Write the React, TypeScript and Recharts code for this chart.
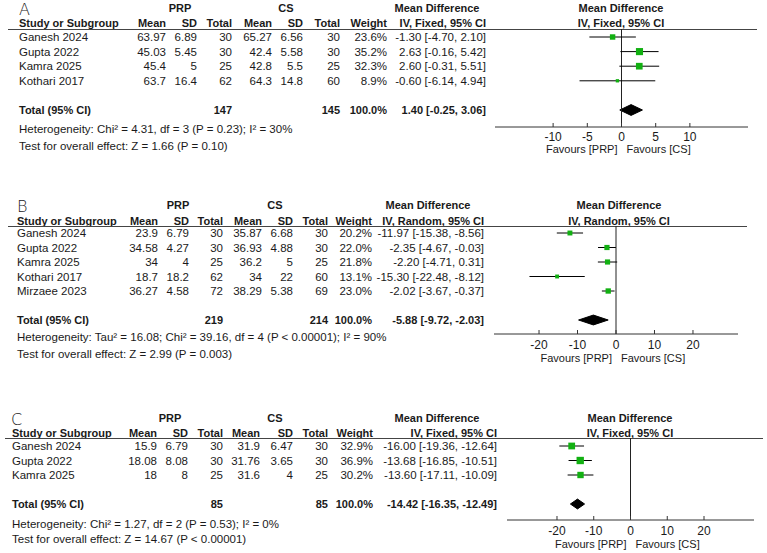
import React from 'react';
import { ComposedChart, Scatter, Area, XAxis, YAxis, ErrorBar, ReferenceLine } from 'recharts';

const FONT = '"Liberation Sans", Arial, sans-serif';
const INK = '#1a1a1a';
const GREEN = '#12b012';

// ---- panel A: fixed effect, 4 studies
const studiesA = ['Ganesh 2024', 'Gupta 2022', 'Kamra 2025', 'Kothari 2017'];
const prpMeanA = [63.97, 45.03, 45.4, 63.7];
const prpSdA = [6.89, 5.45, 5, 16.4];
const prpNA = [30, 30, 25, 62];
const csMeanA = [65.27, 42.4, 42.8, 64.3];
const csSdA = [6.56, 5.58, 5.5, 14.8];
const csNA = [30, 30, 25, 60];
const weightA = [23.6, 35.2, 32.3, 8.9];
const mdA = [-1.3, 2.63, 2.6, -0.6];
const loA = [-4.7, -0.16, -0.31, -6.14];
const hiA = [2.1, 5.42, 5.51, 4.94];
const totalA = [1.4, -0.25, 3.06];
const totalNA = [147, 145];
const notesA = ['Heterogeneity: Chi\u00b2 = 4.31, df = 3 (P = 0.23); I\u00b2 = 30%', 'Test for overall effect: Z = 1.66 (P = 0.10)'];
const ticksA = [-10, -5, 0, 5, 10];

// ---- panel B: random effects, 5 studies
const studiesB = ['Ganesh 2024', 'Gupta 2022', 'Kamra 2025', 'Kothari 2017', 'Mirzaee 2023'];
const prpMeanB = [23.9, 34.58, 34, 18.7, 36.27];
const prpSdB = [6.79, 4.27, 4, 18.2, 4.58];
const prpNB = [30, 30, 25, 62, 72];
const csMeanB = [35.87, 36.93, 36.2, 34, 38.29];
const csSdB = [6.68, 4.88, 5, 22, 5.38];
const csNB = [30, 30, 25, 60, 69];
const weightB = [20.2, 22.0, 21.8, 13.1, 23.0];
const mdB = [-11.97, -2.35, -2.2, -15.3, -2.02];
const loB = [-15.38, -4.67, -4.71, -22.48, -3.67];
const hiB = [-8.56, -0.03, 0.31, -8.12, -0.37];
const totalB = [-5.88, -9.72, -2.03];
const totalNB = [219, 214];
const notesB = ['Heterogeneity: Tau\u00b2 = 16.08; Chi\u00b2 = 39.16, df = 4 (P < 0.00001); I\u00b2 = 90%', 'Test for overall effect: Z = 2.99 (P = 0.003)'];
const ticksB = [-20, -10, 0, 10, 20];

// ---- panel C: fixed effect, 3 studies
const studiesC = ['Ganesh 2024', 'Gupta 2022', 'Kamra 2025'];
const prpMeanC = [15.9, 18.08, 18];
const prpSdC = [6.79, 8.08, 8];
const prpNC = [30, 30, 25];
const csMeanC = [31.9, 31.76, 31.6];
const csSdC = [6.47, 3.65, 4];
const csNC = [30, 30, 25];
const weightC = [32.9, 36.9, 30.2];
const mdC = [-16.0, -13.68, -13.6];
const loC = [-19.36, -16.85, -17.11];
const hiC = [-12.64, -10.51, -10.09];
const totalC = [-14.42, -16.35, -12.49];
const totalNC = [85, 85];
const notesC = ['Heterogeneity: Chi\u00b2 = 1.27, df = 2 (P = 0.53); I\u00b2 = 0%', 'Test for overall effect: Z = 14.67 (P < 0.00001)'];
const ticksC = [-20, -10, 0, 10, 20];

const panels = [
  {
    letter: 'A', model: 'IV, Fixed, 95% CI', studies: studiesA, prpMean: prpMeanA, prpSd: prpSdA, prpN: prpNA,
    csMean: csMeanA, csSd: csSdA, csN: csNA, weight: weightA, md: mdA, lo: loA, hi: hiA,
    total: totalA, totalN: totalNA, notes: notesA, ticks: ticksA,
    L: {
      letterX: 19, h1: 8, h2: 23, rule: 29, ruleL: 8, ruleR: 757, row0: 37, rowH: 14.6, totalIdx: 5,
      het: 129, test: 146, axisY: 127, plotL: 495, plotR: 748, domain: [-18.5, 18.5],
      studyX: 19, cols: [166, 197, 232, 272, 303, 340, 387, 486], prpC: 180, csC: 286, mdC: 437, plotMdC: 621,
      fav: 149, tm: 9, dh: 0.37,
    },
  },
  {
    letter: 'B', model: 'IV, Random, 95% CI', studies: studiesB, prpMean: prpMeanB, prpSd: prpSdB, prpN: prpNB,
    csMean: csMeanB, csSd: csSdB, csN: csNB, weight: weightB, md: mdB, lo: loB, hi: hiB,
    total: totalB, totalN: totalNB, notes: notesB, ticks: ticksB,
    L: {
      letterX: 17, h1: 205, h2: 221, rule: 226, ruleL: 8, ruleR: 747, row0: 233, rowH: 14.5, totalIdx: 6,
      het: 337, test: 354, axisY: 334, plotL: 494, plotR: 738, domain: [-31.7, 31.7],
      studyX: 17, cols: [158, 189, 223, 262, 293, 328, 372, 484], prpC: 178, csC: 275, mdC: 428, plotMdC: 619,
      fav: 358, tm: 10, dh: 0.34,
    },
  },
  {
    letter: 'C', model: 'IV, Fixed, 95% CI', studies: studiesC, prpMean: prpMeanC, prpSd: prpSdC, prpN: prpNC,
    csMean: csMeanC, csSd: csSdC, csN: csNC, weight: weightC, md: mdC, lo: loC, hi: hiC,
    total: totalC, totalN: totalNC, notes: notesC, ticks: ticksC,
    L: {
      letterX: 11, h1: 418, h2: 433, rule: 438, ruleL: 5, ruleR: 763, row0: 446, rowH: 14.5, totalIdx: 4,
      het: 524, test: 539, axisY: 520, plotL: 507, plotR: 754, domain: [-33.6, 33.6],
      studyX: 12, cols: [157, 188, 223, 260, 293, 328, 373, 497], prpC: 170, csC: 275, mdC: 437, plotMdC: 630,
      fav: 544, tm: 10, dh: 0.34,
    },
  },
];

const ci = (m: number, l: number, h: number) => `${m.toFixed(2)} [${l.toFixed(2)}, ${h.toFixed(2)}]`;

const T = ({ x, y, align = 'left', bold = false, size = 11.5, lh = 16, children }: any) => {
  const w = 400;
  const left = align === 'left' ? x : align === 'right' ? x - w : x - w / 2;
  return (
    <div
      style={{
        position: 'absolute', left, top: y - lh / 2, width: w, height: lh, lineHeight: `${lh}px`,
        textAlign: align, fontSize: size, fontWeight: bold ? 700 : 400, whiteSpace: 'nowrap', color: INK,
      }}
    >
      {children}
    </div>
  );
};

const Square = (props: any) => {
  const { cx, cy, payload } = props;
  if (cx == null || cy == null) return null;
  const s = 2 + payload.w * 0.145;
  return <rect x={cx - s / 2} y={cy - s / 2} width={s} height={s} fill={GREEN} />;
};

function Panel({ p }: { p: any }) {
  const L = p.L;
  const rowY = (i: number) => L.row0 + i * L.rowH;
  const yMin = (L.rule - L.row0) / L.rowH;
  const yMax = (L.axisY - L.row0) / L.rowH;
  const points = p.md.map((m: number, i: number) => ({ x: m, y: i, w: p.weight[i], err: [m - p.lo[i], p.hi[i] - m] }));
  const [tm, tl, th] = p.total;
  const ti = L.totalIdx;
  const diamond = [
    { x: tl, band: [ti, ti] },
    { x: tm, band: [ti - L.dh, ti + L.dh] },
    { x: th, band: [ti, ti] },
  ];
  const zeroX = L.plotL + ((0 - L.domain[0]) / (L.domain[1] - L.domain[0])) * (L.plotR - L.plotL);
  const c = L.cols;
  const hb = { bold: true, size: 11, lh: 10 };

  return (
    <>
      <div style={{ position: 'absolute', left: L.letterX, top: L.h1 - 6, fontSize: 16, lineHeight: '16px', height: 16, color: INK, fontFamily: '"DejaVu Sans", sans-serif', fontWeight: 200 }}>
        {p.letter}
      </div>
      <T x={L.prpC} y={L.h1} align="center" {...hb}>PRP</T>
      <T x={L.csC} y={L.h1} align="center" {...hb}>CS</T>
      <T x={L.mdC} y={L.h1} align="center" {...hb}>Mean Difference</T>
      <T x={L.plotMdC} y={L.h1} align="center" {...hb}>Mean Difference</T>

      <T x={L.studyX} y={L.h2} {...hb}>Study or Subgroup</T>
      {['Mean', 'SD', 'Total', 'Mean', 'SD', 'Total', 'Weight', p.model].map((h, k) => (
        <T key={k} x={c[k]} y={L.h2} align="right" {...hb}>{h}</T>
      ))}
      <T x={L.plotMdC} y={L.h2} align="center" {...hb}>{p.model}</T>

      <div style={{ position: 'absolute', left: L.ruleL, top: L.rule, width: L.ruleR - L.ruleL, height: 1, background: '#444' }} />

      {p.studies.map((s: string, i: number) => {
        const y = rowY(i);
        const vals = [p.prpMean[i], p.prpSd[i], p.prpN[i], p.csMean[i], p.csSd[i], p.csN[i], `${p.weight[i].toFixed(1)}%`, ci(p.md[i], p.lo[i], p.hi[i])];
        return (
          <React.Fragment key={s}>
            <T x={L.studyX} y={y}>{s}</T>
            {vals.map((v, k) => (
              <T key={k} x={c[k]} y={y} align="right">{String(v)}</T>
            ))}
          </React.Fragment>
        );
      })}

      <T x={L.studyX} y={rowY(ti)} {...hb}>Total (95% CI)</T>
      <T x={c[2]} y={rowY(ti)} align="right" {...hb}>{p.totalN[0]}</T>
      <T x={c[5]} y={rowY(ti)} align="right" {...hb}>{p.totalN[1]}</T>
      <T x={c[6]} y={rowY(ti)} align="right" {...hb}>100.0%</T>
      <T x={c[7]} y={rowY(ti)} align="right" {...hb}>{ci(tm, tl, th)}</T>
      <T x={L.studyX} y={L.het} lh={14}>{p.notes[0]}</T>
      <T x={L.studyX} y={L.test} lh={14}>{p.notes[1]}</T>

      <T x={zeroX - 4} y={L.fav} align="right" size={11} lh={12}>Favours [PRP]</T>
      <T x={zeroX + 5} y={L.fav} size={11} lh={12}>Favours [CS]</T>

      <div style={{ position: 'absolute', left: 0, top: L.rule }}>
        <ComposedChart
          width={767}
          height={L.axisY - L.rule + 30}
          margin={{ top: 0, right: 767 - L.plotR, bottom: 0, left: L.plotL }}
        >
          <XAxis
            type="number"
            dataKey="x"
            domain={L.domain}
            ticks={p.ticks}
            interval={0}
            allowDataOverflow
            height={30}
            tickSize={-4}
            tickMargin={L.tm}
            axisLine={{ stroke: '#333' }}
            tickLine={{ stroke: '#333' }}
            tick={{ fontSize: 12, fill: INK, fontFamily: FONT }}
          />
          <YAxis type="number" dataKey="y" domain={[yMin, yMax]} reversed hide allowDataOverflow />
          <ReferenceLine x={0} stroke="#222" />
          <Area
            data={diamond}
            dataKey="band"
            type="linear"
            stroke="#000"
            fill="#000"
            fillOpacity={1}
            dot={false}
            activeDot={false}
            isAnimationActive={false}
          />
          <Scatter data={points} shape={Square} isAnimationActive={false}>
            <ErrorBar dataKey="err" direction="x" width={0} stroke="#000" strokeWidth={1} isAnimationActive={false} />
          </Scatter>
        </ComposedChart>
      </div>
    </>
  );
}

export default function App() {
  return (
    <div style={{ position: 'absolute', left: 0, top: 0, width: 767, height: 553, background: '#fff', fontFamily: FONT }}>
      {panels.map((p) => (
        <Panel key={p.letter} p={p} />
      ))}
    </div>
  );
}
